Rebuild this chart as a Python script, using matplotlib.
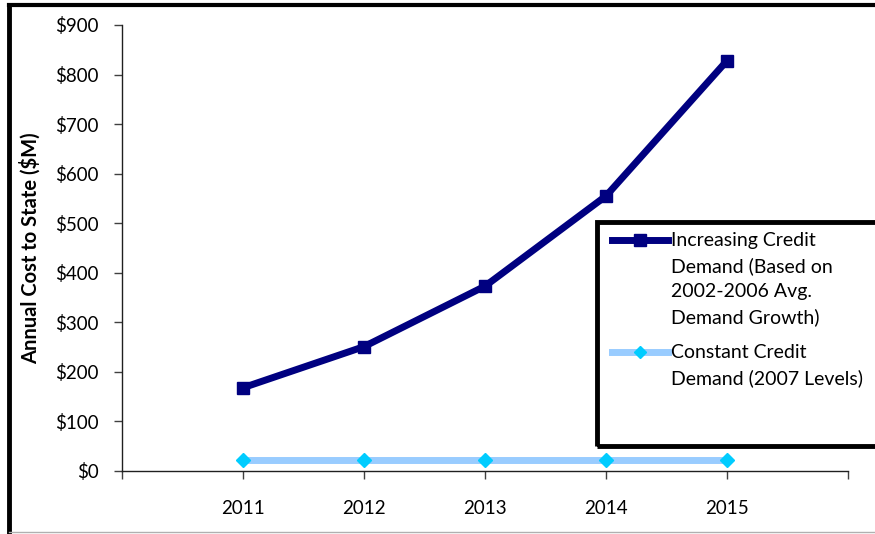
import matplotlib
matplotlib.use("Agg")
from matplotlib import pyplot as plt
from matplotlib.lines import Line2D
from matplotlib.patches import Rectangle

plt.rcParams['font.family'] = ['Lato', 'DejaVu Sans']

years = ['2011', '2012', '2013', '2014', '2015']
increasing = [168, 251, 373, 555, 828]
constant = [22, 22, 22, 22, 22]
y_ticks = [0, 100, 200, 300, 400, 500, 600, 700, 800, 900]
labels = ['Increasing Credit\nDemand (Based on\n2002-2006 Avg.\nDemand Growth)',
          'Constant Credit\nDemand (2007 Levels)']

fig = plt.figure(figsize=(8.75, 5.34), dpi=100)
ax = fig.add_axes([122 / 875, 63 / 534, 726 / 875, 446 / 534])

dark = dict(color='#000080', lw=5, marker='s', ms=9, solid_joinstyle='miter')
light = dict(color='#99CCFF', lw=5, marker='D', ms=7, mfc='#00CCFF', mec='#00CCFF')

pos = list(range(1, len(years) + 1))
ax.plot(pos, increasing, **dark)
ax.plot(pos, constant, **light)

ax.set_xlim(0, 6)
ax.set_ylim(0, 900)
ax.set_xticks(range(0, 7))
ax.set_xticklabels([''] + years + [''])
ax.set_yticks(y_ticks)
ax.set_yticklabels(['$%d' % v for v in y_ticks])
ax.tick_params(axis='both', labelsize=13.5, length=6, width=1, direction='out', color='#404040')
ax.tick_params(axis='x', pad=15)
ax.tick_params(axis='y', pad=11)
for side in ['top', 'right']:
    ax.spines[side].set_visible(False)
for side in ['left', 'bottom']:
    ax.spines[side].set_linewidth(1)
    ax.spines[side].set_color('#202020')

ax.set_ylabel('Annual Cost to State ($M)', fontsize=14.5, fontweight='bold', labelpad=10)

# legend drawn by hand: box runs off the right edge, handle sits on first text line
W, H = 875, 534
fig.patches.append(Rectangle((597 / W, 1 - 446 / H), 0.5, 224 / H,
                             transform=fig.transFigure, fill=False,
                             edgecolor='black', lw=3.5, zorder=5))
for style, label, y in [(dark, labels[0], 240), (light, labels[1], 352)]:
    fig.add_artist(Line2D([612 / W, 668 / W], [1 - y / H] * 2, transform=fig.transFigure,
                          color=style['color'], lw=style['lw']))
    fig.add_artist(Line2D([640 / W], [1 - y / H], transform=fig.transFigure,
                          ls='none', marker=style['marker'], ms=style['ms'] * 0.9,
                          color=style.get('mfc', style['color'])))
    fig.text(671 / W, 1 - (y - 8) / H, label, fontsize=14, va='top', ha='left',
             linespacing=1.55)

# outer chart frame
fig.add_artist(Line2D([9 / W, 1], [1 - 5 / H, 1 - 5 / H], transform=fig.transFigure,
                      color='black', lw=3))
fig.add_artist(Line2D([9 / W, 9 / W], [0, 1 - 5 / H], transform=fig.transFigure,
                      color='black', lw=3.5))
fig.add_artist(Line2D([9 / W, 1], [2 / H, 2 / H], transform=fig.transFigure,
                      color='#b0b0b0', lw=1))

fig.savefig('out.png', dpi=100)
